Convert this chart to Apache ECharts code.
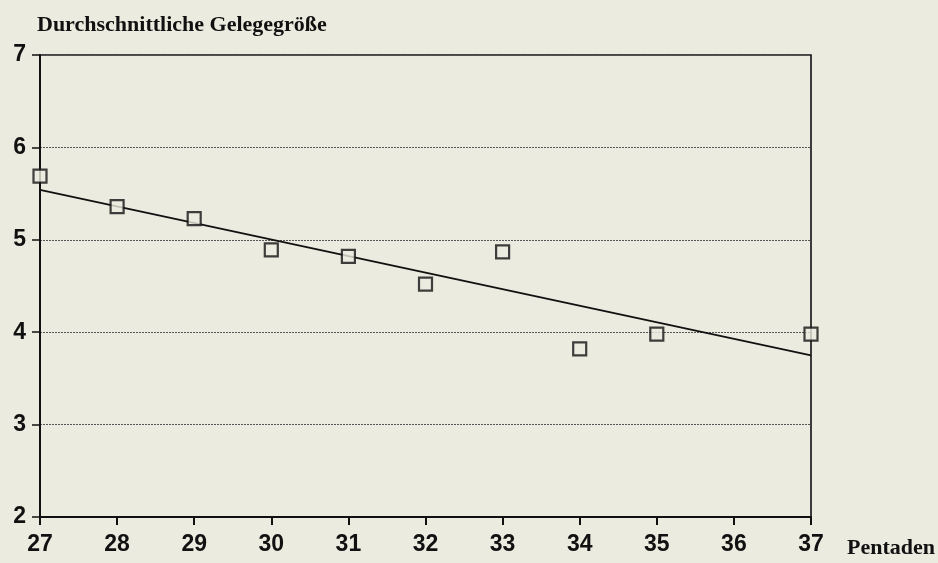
<!DOCTYPE html>
<html>
<head>
<meta charset="utf-8">
<script src="https://cdn.jsdelivr.net/npm/echarts@6/dist/echarts.min.js"></script>
<style>
  html, body { margin: 0; padding: 0; background: #ecebdf; }
  #chart { width: 938px; height: 563px; }
</style>
</head>
<body>
<div id="chart"></div>
<script>
// Pentaden with a measured mean clutch size (no value at 36)
const pentaden = [27, 28, 29, 30, 31, 32, 33, 34, 35, 37];
const clutchSize = [5.69, 5.36, 5.23, 4.89, 4.82, 4.52, 4.87, 3.82, 3.98, 3.98];

// Regression line end points
const trendX = [27, 37];
const trendY = [5.54, 3.75];

const chart = echarts.init(document.getElementById('chart'));

const option = {
    backgroundColor: '#ecebdf',
    animation: false,
    grid: {
        left: 40,
        right: 127,
        top: 55,
        bottom: 46,
        show: true,
        borderColor: '#111',
        borderWidth: 1.6
    },
    title: {
        text: 'Durchschnittliche Gelegegröße',
        left: 32,
        top: 9,
        textStyle: {
            fontFamily: 'Liberation Serif',
            fontWeight: 'bold',
            fontSize: 22,
            color: '#111'
        }
    },
    graphic: [{
        type: 'text',
        left: 847,
        top: 537,
        style: {
            text: 'Pentaden',
            fontFamily: 'Liberation Serif',
            fontWeight: 'bold',
            fontSize: 22,
            fill: '#111'
        }
    }],
    xAxis: {
        type: 'value',
        min: 27,
        max: 37,
        interval: 1,
        axisLine: { show: true, lineStyle: { color: '#111', width: 2 } },
        axisTick: { show: true, length: 8, lineStyle: { color: '#111', width: 2 } },
        axisLabel: {
            margin: 16,
            fontFamily: 'Liberation Sans',
            fontWeight: 'bold',
            fontSize: 23,
            color: '#111'
        },
        splitLine: { show: false }
    },
    yAxis: {
        type: 'value',
        min: 2,
        max: 7,
        interval: 1,
        axisLine: { show: true, lineStyle: { color: '#111', width: 2 } },
        axisTick: { show: true, length: 8, lineStyle: { color: '#111', width: 1.5 } },
        axisLabel: {
            margin: 14,
            fontFamily: 'Liberation Sans',
            fontWeight: 'bold',
            fontSize: 23,
            color: '#111'
        },
        splitLine: {
            show: true,
            lineStyle: { type: [2, 1], color: '#555', width: 1.2 }
        }
    },
    series: [
        {
            type: 'line',
            data: trendX.map((x, i) => [x, trendY[i]]),
            symbol: 'none',
            lineStyle: { color: '#111', width: 1.8 },
            z: 3
        },
        {
            type: 'scatter',
            data: pentaden.map((p, i) => [p, clutchSize[i]]),
            symbol: 'rect',
            symbolSize: 13,
            itemStyle: {
                color: '#ecebdf',
                borderColor: '#111',
                borderWidth: 2.2
            },
            z: 4
        }
    ]
};

chart.setOption(option);
</script>
</body>
</html>
